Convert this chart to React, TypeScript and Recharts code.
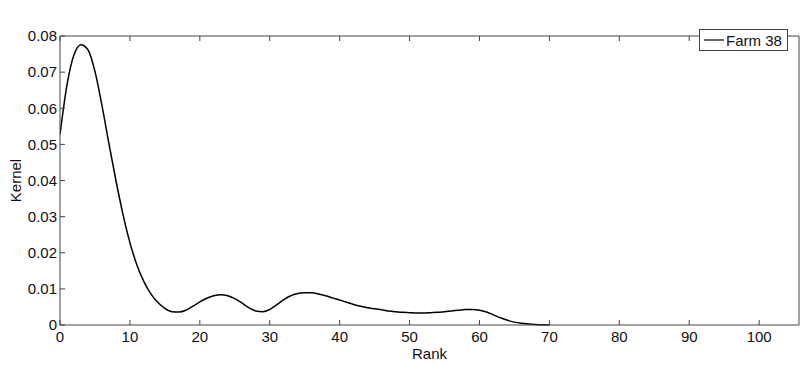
import React from 'react';
import { LineChart, Line, XAxis, YAxis, Legend } from 'recharts';

// rank (x) and kernel density estimate (y)
const ranks = Array.from({ length: 71 }, (_, i) => i);
const kernel = [
  0.0527, 0.0665, 0.0748, 0.0776, 0.0762, 0.0702, 0.0608, 0.0502, 0.0400, 0.0307,
  0.0228, 0.0166, 0.0120, 0.0086, 0.0062, 0.0046, 0.0037, 0.0036, 0.0041, 0.0052,
  0.0064, 0.0074, 0.0081, 0.0084, 0.0081, 0.0073, 0.0061, 0.0048, 0.0039, 0.0037,
  0.0043, 0.0056, 0.0070, 0.0081, 0.0087, 0.0089, 0.0089, 0.0086, 0.0081, 0.0075,
  0.0069, 0.0063, 0.0057, 0.0052, 0.0048, 0.0045, 0.0042, 0.0039, 0.0037, 0.0035,
  0.0034, 0.0033, 0.0033, 0.0034, 0.0035, 0.0037, 0.0039, 0.0041, 0.0043, 0.0043,
  0.0041, 0.0036, 0.0028, 0.0020, 0.0013, 0.0008, 0.0005, 0.0003, 0.00015, 0.00005,
  0,
];
const xTicks = [0, 10, 20, 30, 40, 50, 60, 70, 80, 90, 100];
const yTicks = [0, 0.01, 0.02, 0.03, 0.04, 0.05, 0.06, 0.07, 0.08];
const seriesName = 'Farm 38';

const data = ranks.map((r, i) => ({ rank: r, kernel: kernel[i] }));

const FONT = 'Arial, "Liberation Sans", Helvetica, sans-serif';
const AXIS = '#444';
const tickStyle = { fontSize: 15, fill: '#111', fontFamily: FONT };

const fmtY = (v: number) => (v === 0 ? '0' : v.toFixed(2));

function KernelLabel(props: any) {
  const vb = props.viewBox || {};
  const cx = vb.x + 15;
  const cy = vb.y + vb.height / 2;
  return (
    <text
      x={cx}
      y={cy}
      transform={`rotate(-90, ${cx}, ${cy})`}
      textAnchor="middle"
      dominantBaseline="central"
      fontSize={15}
      fontFamily={FONT}
      fill="#111"
    >
      Kernel
    </text>
  );
}

function LegendBox() {
  return (
    <div
      style={{
        display: 'flex',
        alignItems: 'center',
        border: `1px solid ${AXIS}`,
        background: '#fff',
        height: 20,
        width: 87,
        fontFamily: FONT,
        fontSize: 15,
        color: '#111',
        boxSizing: 'content-box',
      }}
    >
      <svg width={26} height={20}>
        <line x1={4} y1={10} x2={24} y2={10} stroke="#000" strokeWidth={1.2} />
      </svg>
      <span>{seriesName}</span>
    </div>
  );
}

export default function App() {
  return (
    <div style={{ position: 'absolute', left: 0, top: 0, width: 800, height: 365, background: '#fff' }}>
      <LineChart width={800} height={365} data={data} margin={{ top: 0, right: 0, bottom: 0, left: 0 }}>
        <XAxis
          dataKey="rank"
          type="number"
          domain={[0, 105.7]}
          ticks={xTicks}
          allowDataOverflow
          height={40}
          stroke={AXIS}
          tickSize={-5}
          tickMargin={11}
          tick={tickStyle}
          label={{ value: 'Rank', position: 'insideBottom', offset: 6, fontSize: 15, fontFamily: FONT, fill: '#111' }}
        />
        <XAxis
          xAxisId="top"
          dataKey="rank"
          type="number"
          orientation="top"
          domain={[0, 105.7]}
          ticks={xTicks}
          allowDataOverflow
          height={14}
          stroke={AXIS}
          tickSize={-5}
          tickFormatter={() => ''}
        />
        <YAxis
          type="number"
          domain={[0, 0.08]}
          ticks={yTicks}
          width={60}
          stroke={AXIS}
          tickSize={-5}
          tickMargin={8}
          tick={tickStyle}
          tickFormatter={fmtY}
          label={<KernelLabel />}
        />
        <YAxis
          yAxisId="right"
          orientation="right"
          type="number"
          domain={[0, 0.08]}
          ticks={yTicks}
          width={1}
          stroke={AXIS}
          tickSize={-5}
          tickFormatter={() => ''}
        />
        <Legend
          verticalAlign="top"
          align="right"
          content={<LegendBox />}
          wrapperStyle={{ position: 'absolute', top: 29, left: 699, width: 'auto' }}
        />
        <Line
          type="monotone"
          dataKey="kernel"
          name={seriesName}
          stroke="#000"
          strokeWidth={1.5}
          dot={false}
          isAnimationActive={false}
        />
      </LineChart>
    </div>
  );
}
